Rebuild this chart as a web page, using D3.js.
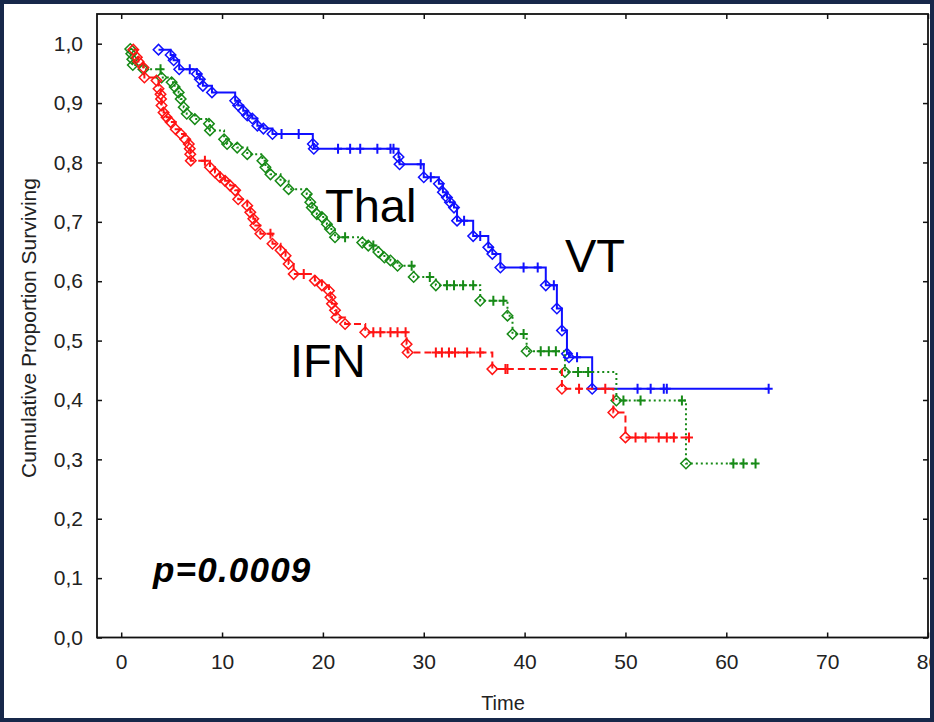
<!DOCTYPE html>
<html>
<head>
<meta charset="utf-8">
<script src="https://cdn.jsdelivr.net/npm/d3@7/dist/d3.min.js"></script>
<style>
  body { margin: 0; background: #fff; }
</style>
</head>
<body>
<div class="chart"></div>
<script>
// axis ticks
var xTicks = [0, 10, 20, 30, 40, 50, 60, 70, 80];
var yTicks = [0, 0.1, 0.2, 0.3, 0.4, 0.5, 0.6, 0.7, 0.8, 0.9, 1.0];

// VT - event times / survival after the event / censored times
var vtTimes = [3.7, 4.9, 5.2, 5.75, 7.5, 7.8, 8.1, 9.0, 11.3, 11.6, 12.1, 12.5, 13.0, 13.5, 14.1, 15.0,
  19.0, 19.1, 27.5, 27.6, 30.0, 31.5, 31.9, 32.3, 32.6, 33.0, 33.3, 34.9, 36.4, 36.8, 37.6,
  42.1, 43.2, 43.7, 44.2, 44.4, 46.7];
var vtSurv = [0.990, 0.981, 0.972, 0.957, 0.949, 0.940, 0.929, 0.918, 0.904, 0.896, 0.887, 0.879, 0.874, 0.862, 0.857, 0.848,
  0.831, 0.823, 0.809, 0.797, 0.775, 0.764, 0.750, 0.741, 0.733, 0.724, 0.702, 0.676, 0.657, 0.646, 0.623,
  0.593, 0.554, 0.517, 0.478, 0.472, 0.419];
var vtCens = [6.8, 15.9, 17.6, 21.5, 22.7, 23.7, 25.4, 26.7, 27.0, 29.7, 30.7, 34.0, 35.6, 39.9, 41.3,
  42.9, 45.2, 51.2, 52.5, 53.8, 54.1, 64.2];

// Thal
var thalTimes = [0.9, 1.0, 1.1, 1.15, 2.2, 4.0, 5.0, 5.3, 5.7, 5.9, 6.2, 6.5, 7.3, 8.7, 8.8, 10.2, 10.5, 11.5, 12.5,
  14.0, 14.3, 14.8, 15.8, 16.6, 18.4, 18.75, 18.9, 19.4, 19.9, 20.4, 20.7, 21.2, 23.9, 24.5, 25.5, 26.1, 26.7, 27.4,
  29.0, 31.2, 35.6, 38.3, 38.8, 40.2, 44.0, 49.1, 56.0];
var thalSurv = [0.991, 0.983, 0.974, 0.964, 0.957, 0.943, 0.935, 0.927, 0.918, 0.907, 0.893, 0.882, 0.873, 0.865, 0.854, 0.839, 0.831, 0.825, 0.814,
  0.803, 0.792, 0.780, 0.769, 0.755, 0.747, 0.733, 0.724, 0.713, 0.708, 0.696, 0.688, 0.674, 0.665, 0.660, 0.649, 0.640, 0.635, 0.626,
  0.607, 0.593, 0.567, 0.542, 0.511, 0.482, 0.447, 0.399, 0.293];
var thalCens = [3.9, 22.2, 25.0, 28.8, 30.6, 32.3, 33.0, 33.9, 34.9, 36.9, 37.9, 39.9, 41.6, 42.4, 43.1,
  45.3, 46.3, 49.8, 51.5, 55.6, 60.7, 61.7, 62.9];

// IFN
var ifnTimes = [1.2, 1.55, 1.7, 2.2, 2.3, 3.5, 3.7, 3.9, 3.95, 4.0, 4.2, 4.5, 4.9, 5.4, 5.9, 6.35, 6.7, 6.8, 6.85, 6.9,
  8.8, 9.3, 9.8, 10.3, 10.8, 11.3, 11.6, 12.5, 12.8, 13.1, 13.3, 13.8, 15.0, 15.8, 16.3, 16.6, 17.1,
  19.2, 19.9, 20.6, 20.75, 20.9, 21.2, 21.35, 22.2, 24.2, 28.3, 28.4, 36.8, 43.7, 48.8, 50.0];
var ifnSurv = [0.990, 0.977, 0.970, 0.960, 0.943, 0.938, 0.924, 0.915, 0.907, 0.896, 0.884, 0.876, 0.868, 0.856, 0.848, 0.839, 0.831, 0.823, 0.814, 0.803,
  0.792, 0.783, 0.775, 0.769, 0.761, 0.753, 0.738, 0.727, 0.716, 0.705, 0.694, 0.680, 0.663, 0.652, 0.643, 0.629, 0.612,
  0.601, 0.593, 0.584, 0.573, 0.562, 0.551, 0.539, 0.528, 0.514, 0.494, 0.480, 0.452, 0.419, 0.379, 0.337];
var ifnCens = [8.3, 14.8, 18.1, 25.0, 25.7, 26.7, 27.4, 28.2, 31.2, 31.8, 32.5, 33.1, 34.3, 35.6, 38.1, 38.3,
  45.4, 48.0, 51.0, 52.0, 53.3, 54.1, 54.8, 56.3];

var groupNames = ["VT", "Thal", "IFN"];
var groupColors = ["#1010ff", "#178a17", "#ff1414"];

// SVG area
var svgWidth = 934;
var svgHeight = 722;

var svg = d3.select(".chart")
  .append("svg")
  .attr("width", svgWidth)
  .attr("height", svgHeight)
  .style("display", "block");

svg.append("rect")
  .attr("width", svgWidth)
  .attr("height", svgHeight)
  .attr("fill", "#fff");

// plot box edges
var box = { left: 97, top: 14, right: 928, bottom: 637.5 };

var xScale = d3.scaleLinear().domain([-2.4, 80]).range([box.left, box.right]);
var yScale = d3.scaleLinear().domain([0, 1.05]).range([box.bottom, box.top]);

var fontAxis = "'Liberation Sans', Arial, sans-serif";

function fmt(d) { return d.toFixed(1).replace(".", ","); }

// axes with inward ticks
var leftAxis = d3.axisLeft(yScale).tickValues(yTicks).tickSize(-5).tickPadding(14).tickFormat(fmt);
var rightAxis = d3.axisRight(yScale).tickValues(yTicks).tickSize(-5).tickFormat("");
var bottomAxis = d3.axisBottom(xScale).tickValues(xTicks).tickSize(-5).tickPadding(17).tickFormat(d3.format("d"));
var topAxis = d3.axisTop(xScale).tickValues(xTicks).tickSize(-5).tickFormat("");

function styleAxis(g) {
  g.select(".domain").remove();
  g.selectAll(".tick line").attr("stroke", "#111").attr("stroke-width", 1.5);
  g.selectAll(".tick text")
    .attr("fill", "#222")
    .style("font-family", fontAxis)
    .style("font-size", "21px");
}

svg.append("g").attr("transform", `translate(${box.left},0)`).call(leftAxis).call(styleAxis);
svg.append("g").attr("transform", `translate(${box.right},0)`).call(rightAxis).call(styleAxis);
svg.append("g").attr("transform", `translate(0,${box.bottom})`).call(bottomAxis).call(styleAxis);
svg.append("g").attr("transform", `translate(0,${box.top})`).call(topAxis).call(styleAxis);

svg.append("rect")
  .attr("x", box.left)
  .attr("y", box.top)
  .attr("width", box.right - box.left)
  .attr("height", box.bottom - box.top)
  .attr("fill", "none")
  .attr("stroke", "#111")
  .attr("stroke-width", 1.8);

// axis titles
svg.append("text")
  .attr("transform", "translate(36,328) rotate(-90)")
  .attr("text-anchor", "middle")
  .style("font-family", fontAxis)
  .style("font-size", "21px")
  .attr("fill", "#222")
  .text("Cumulative Proportion Surviving");

svg.append("text")
  .attr("x", 503)
  .attr("y", 710)
  .attr("text-anchor", "middle")
  .style("font-family", fontAxis)
  .style("font-size", "20px")
  .attr("fill", "#222")
  .text("Time");

// curves
var groups = [
  { times: vtTimes, surv: vtSurv, cens: vtCens, dash: null },
  { times: thalTimes, surv: thalSurv, cens: thalCens, dash: "2,3" },
  { times: ifnTimes, surv: ifnSurv, cens: ifnCens, dash: "7,4" }
];

var stepLine = d3.line()
  .x(d => xScale(d[0]))
  .y(d => yScale(d[1]))
  .curve(d3.curveStepAfter);

var diamond = d3.symbol().type(d3.symbolSquare).size(55);

groups.forEach(function (g, i) {
  var color = groupColors[i];
  var pts = g.times.map((t, k) => [t, g.surv[k]]);
  var lastT = d3.max(g.cens.concat(g.times));
  pts.push([lastT, g.surv[g.surv.length - 1]]);

  var layer = svg.append("g").attr("class", "curve-" + groupNames[i]);

  layer.append("path")
    .attr("d", stepLine(pts))
    .attr("fill", "none")
    .attr("stroke", color)
    .attr("stroke-width", 2)
    .attr("stroke-dasharray", g.dash);

  layer.selectAll(".ev")
    .data(pts.slice(0, -1))
    .enter()
    .append("path")
    .attr("class", "ev")
    .attr("d", diamond)
    .attr("transform", d => `translate(${xScale(d[0])},${yScale(d[1])}) rotate(45)`)
    .attr("fill", "none")
    .attr("stroke", color)
    .attr("stroke-width", 1.5);

  layer.selectAll(".cens")
    .data(g.cens)
    .enter()
    .append("path")
    .attr("class", "cens")
    .attr("d", "M-4,0H4M0,-5V5")
    .attr("transform", function (c) {
      var k = d3.bisectRight(g.times, c) - 1;
      var s = k >= 0 ? g.surv[k] : 1;
      return `translate(${xScale(c)},${yScale(s)})`;
    })
    .attr("fill", "none")
    .attr("stroke", color)
    .attr("stroke-width", 2);
});

// group labels
var labelPos = [[565, 272], [325, 222], [290, 377]];
groupNames.forEach(function (name, i) {
  svg.append("text")
    .attr("x", labelPos[i][0])
    .attr("y", labelPos[i][1])
    .style("font-family", "'Liberation Sans', Arial, sans-serif")
    .style("font-size", "47px")
    .attr("fill", "#000")
    .text(name);
});

svg.append("text")
  .attr("x", 153)
  .attr("y", 582)
  .style("font-family", "'Liberation Sans', Arial, sans-serif")
  .style("font-size", "35px")
  .style("font-weight", "bold")
  .style("font-style", "italic")
  .style("letter-spacing", "1.2px")
  .attr("fill", "#000")
  .text("p=0.0009");

// outer frame
svg.append("rect")
  .attr("x", 2)
  .attr("y", 2)
  .attr("width", svgWidth - 4)
  .attr("height", svgHeight - 4)
  .attr("fill", "none")
  .attr("stroke", "#17284a")
  .attr("stroke-width", 4);
</script>
</body>
</html>
